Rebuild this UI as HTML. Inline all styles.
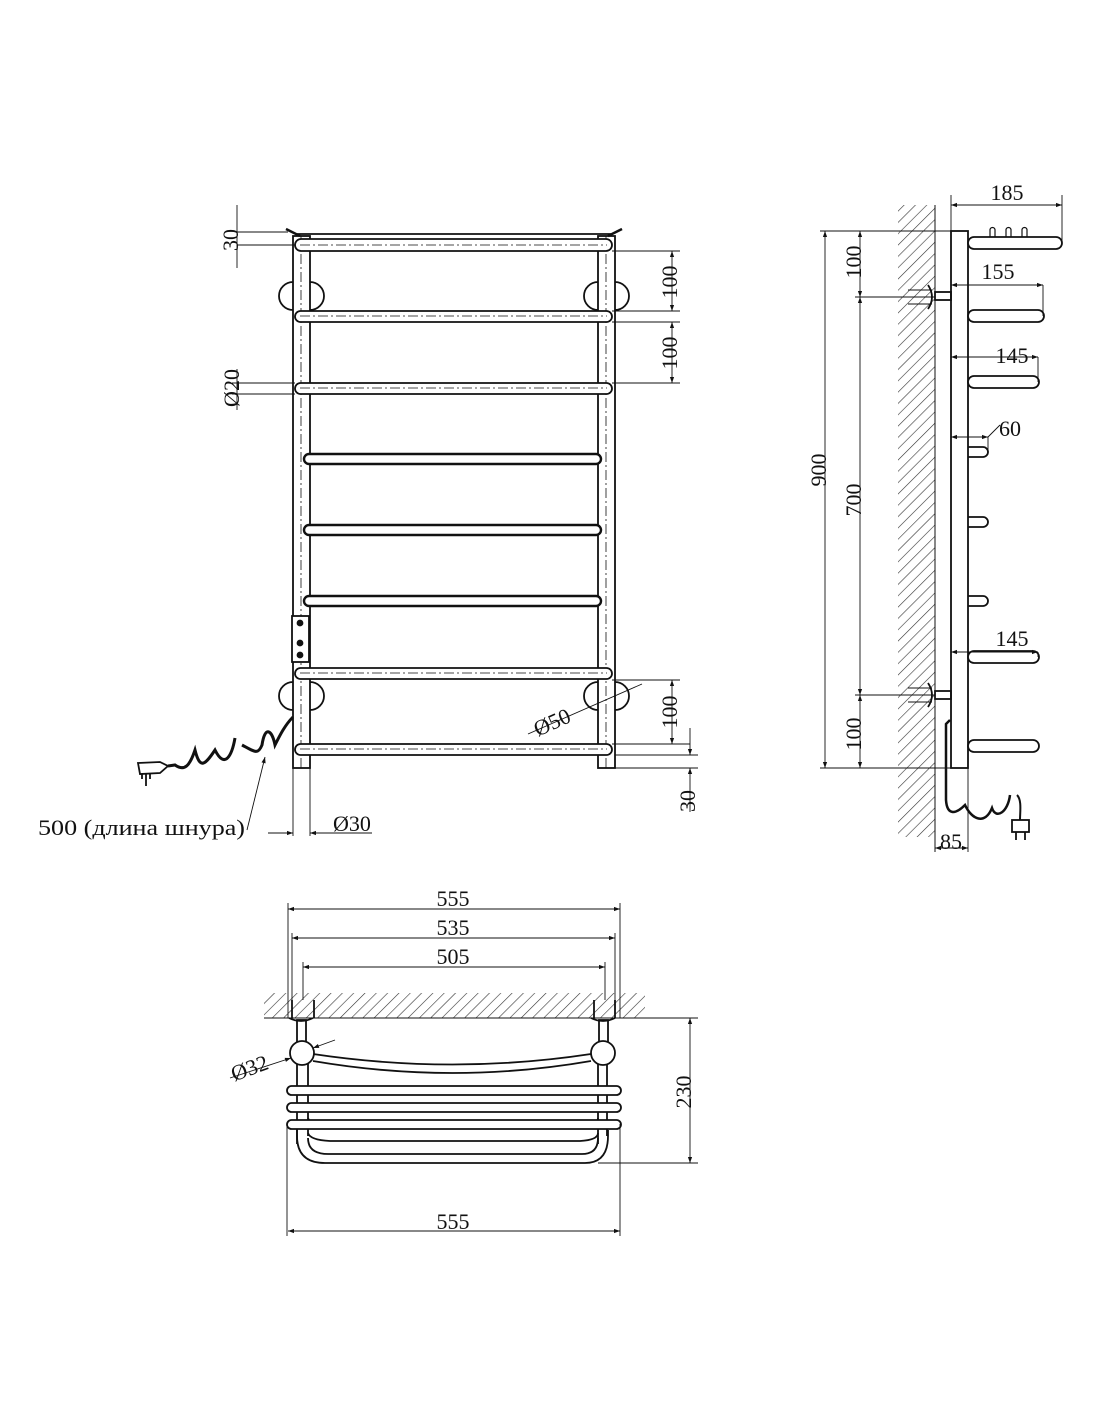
<!DOCTYPE html>
<html><head><meta charset="utf-8"><style>
html,body{margin:0;padding:0;background:#fff;}
svg{display:block;}
text{font-family:"Liberation Serif",serif;font-size:22px;fill:#111;}
</style></head><body>
<svg width="1100" height="1422" viewBox="0 0 1100 1422" xmlns="http://www.w3.org/2000/svg">
<defs>
<marker id="a" viewBox="0 0 10 10" refX="10" refY="5" markerWidth="10" markerHeight="6" orient="auto-start-reverse" markerUnits="userSpaceOnUse"><path d="M0,1.5 L10,5 L0,8.5 z" fill="#111"/></marker>
<pattern id="h" width="8" height="8" patternUnits="userSpaceOnUse" patternTransform="rotate(45)"><line x1="0" y1="0" x2="0" y2="8" stroke="#333" stroke-width="1.2"/></pattern>
</defs>
<g fill="none" stroke="#111" stroke-width="1.8">
<!-- ===== FRONT VIEW ===== -->
<rect x="293" y="236" width="17" height="532" fill="#fff"/>
<rect x="598" y="236" width="17" height="532" fill="#fff"/>
<line x1="301" y1="236" x2="301" y2="768" stroke-dasharray="10,3,2,3" stroke-width="0.8"/>
<line x1="606" y1="236" x2="606" y2="768" stroke-dasharray="10,3,2,3" stroke-width="0.8"/>
<path d="M293,282 A14,14 0 0 0 293,310"/><path d="M310,282 A14,14 0 0 1 310,310"/>
<path d="M598,282 A14,14 0 0 0 598,310"/><path d="M615,282 A14,14 0 0 1 615,310"/>
<path d="M293,682 A14,14 0 0 0 293,710"/><path d="M310,682 A14,14 0 0 1 310,710"/>
<path d="M598,682 A14,14 0 0 0 598,710"/><path d="M615,682 A14,14 0 0 1 615,710"/>
<line x1="286" y1="229" x2="300" y2="236" stroke-width="2.5"/><line x1="622" y1="229" x2="608" y2="236" stroke-width="2.5"/>
<line x1="297" y1="234" x2="611" y2="234"/>
<rect x="295" y="239" width="317" height="12" rx="6" fill="#fff"/>
<rect x="295" y="311" width="317" height="11" rx="5.5" fill="#fff"/>
<rect x="295" y="383" width="317" height="11" rx="5.5" fill="#fff"/>
<rect x="304" y="454" width="297" height="10" rx="5" fill="#fff" stroke-width="2.4"/>
<rect x="304" y="525" width="297" height="10" rx="5" fill="#fff" stroke-width="2.4"/>
<rect x="304" y="596" width="297" height="10" rx="5" fill="#fff" stroke-width="2.4"/>
<rect x="295" y="668" width="317" height="11" rx="5.5" fill="#fff"/>
<rect x="295" y="744" width="317" height="11" rx="5.5" fill="#fff"/>
<g stroke-dasharray="10,3,2,3" stroke-width="0.7">
<line x1="300" y1="245" x2="607" y2="245"/><line x1="300" y1="316" x2="607" y2="316"/><line x1="300" y1="388" x2="607" y2="388"/>
<line x1="300" y1="673" x2="607" y2="673"/><line x1="300" y1="749" x2="607" y2="749"/>
</g>
<rect x="292" y="616" width="17" height="46" fill="#fff"/>
<circle cx="300" cy="623" r="2.5" fill="#111"/><circle cx="300" cy="643" r="2.5" fill="#111"/><circle cx="300" cy="655" r="2.5" fill="#111"/>
<path d="M293,717 C285,725 280,735 275,745 C272,730 265,725 262,745 C258,755 255,752 242,745" stroke-width="3"/>
<path d="M235,738 C232,755 225,770 215,750 C205,765 200,770 195,750 C190,765 185,772 175,765 L168,766" stroke-width="3"/>
<path d="M138,763 L160,762 L168,766 L160,773 L140,774 Z" fill="#fff"/>
<line x1="146" y1="774" x2="146" y2="786"/><line x1="142" y1="774" x2="142" y2="779"/><line x1="150" y1="774" x2="150" y2="779"/>
<g stroke-width="0.9">
<line x1="237" y1="205" x2="237" y2="268"/>
<line x1="237" y1="232" x2="288" y2="232"/><line x1="237" y1="245" x2="295" y2="245"/>
<line x1="237" y1="369" x2="237" y2="410"/>
<line x1="232" y1="383" x2="295" y2="383"/><line x1="232" y1="394" x2="295" y2="394"/>
<line x1="612" y1="251" x2="680" y2="251"/><line x1="612" y1="311" x2="680" y2="311"/>
<line x1="612" y1="322" x2="680" y2="322"/><line x1="612" y1="383" x2="680" y2="383"/>
<line x1="672" y1="251" x2="672" y2="311" marker-start="url(#a)" marker-end="url(#a)"/>
<line x1="672" y1="322" x2="672" y2="383" marker-start="url(#a)" marker-end="url(#a)"/>
<line x1="612" y1="680" x2="680" y2="680"/><line x1="612" y1="744" x2="690" y2="744"/><line x1="615" y1="755" x2="698" y2="755"/><line x1="615" y1="768" x2="698" y2="768"/>
<line x1="672" y1="680" x2="672" y2="744" marker-start="url(#a)" marker-end="url(#a)"/>
<line x1="690" y1="728" x2="690" y2="755" marker-end="url(#a)"/>
<line x1="690" y1="768" x2="690" y2="812" marker-start="url(#a)"/>
<line x1="528" y1="734" x2="642" y2="684"/>
<line x1="293" y1="768" x2="293" y2="836"/><line x1="310" y1="768" x2="310" y2="836"/>
<line x1="268" y1="833" x2="293" y2="833" marker-end="url(#a)"/><line x1="335" y1="833" x2="310" y2="833" marker-end="url(#a)"/><line x1="335" y1="833" x2="372" y2="833"/>
<line x1="247" y1="830" x2="265" y2="757" marker-end="url(#a)"/>
</g>
</g>
<text transform="translate(238,240) rotate(-90)" text-anchor="middle">30</text>
<text transform="translate(239,388) rotate(-90)" text-anchor="middle">Ø20</text>
<text transform="translate(677,282) rotate(-90)" text-anchor="middle">100</text>
<text transform="translate(677,353) rotate(-90)" text-anchor="middle">100</text>
<text transform="translate(677,712) rotate(-90)" text-anchor="middle">100</text>
<text transform="translate(695,801) rotate(-90)" text-anchor="middle">30</text>
<text transform="translate(555,729) rotate(-24)" text-anchor="middle">Ø50</text>
<text x="38" y="835" textLength="207" lengthAdjust="spacingAndGlyphs">500 (длина шнура)</text>
<text x="333" y="831">Ø30</text>

<!-- ===== SIDE VIEW ===== -->
<g fill="none" stroke="#111" stroke-width="1.8">
<rect x="898" y="205" width="37" height="632" fill="url(#h)" stroke="none"/>
<line x1="935" y1="205" x2="935" y2="852" stroke-width="1"/>
<rect x="951" y="231" width="17" height="537" fill="#fff"/>
<rect x="968" y="237" width="94" height="12" rx="6" fill="#fff"/>
<rect x="968" y="310" width="76" height="12" rx="6" fill="#fff"/>
<rect x="968" y="376" width="71" height="12" rx="6" fill="#fff"/>
<path d="M968,447 L983,447 A5,5 0 0 1 983,457 L968,457"/>
<path d="M968,517 L983,517 A5,5 0 0 1 983,527 L968,527"/>
<path d="M968,596 L983,596 A5,5 0 0 1 983,606 L968,606"/>
<rect x="968" y="651" width="71" height="12" rx="6" fill="#fff"/>
<rect x="968" y="740" width="71" height="12" rx="6" fill="#fff"/>
<path d="M990,237 v-7 a2.5,2.5 0 0 1 5,0 v7 M1006,237 v-7 a2.5,2.5 0 0 1 5,0 v7 M1022,237 v-7 a2.5,2.5 0 0 1 5,0 v7" stroke-width="1.2"/>
<path d="M928,285 Q936,297 928,309"/><rect x="935" y="292" width="16" height="8"/>
<path d="M928,683 Q936,695 928,707"/><rect x="935" y="691" width="16" height="8"/>
<g stroke-width="1"><line x1="908" y1="290" x2="932" y2="290"/><line x1="908" y1="304" x2="932" y2="304"/><line x1="908" y1="688" x2="932" y2="688"/><line x1="908" y1="702" x2="932" y2="702"/></g>
<path d="M950,720 L946,724 L946,800 C947,815 955,815 965,805 C972,820 985,825 992,808 C996,820 1008,812 1010,795" stroke-width="2.5"/>
<path d="M1017,795 C1022,800 1020,812 1020,820" stroke-width="2"/>
<rect x="1012" y="820" width="17" height="12" fill="#fff"/>
<line x1="1016" y1="832" x2="1016" y2="840"/><line x1="1025" y1="832" x2="1025" y2="840"/>
<g stroke-width="0.9">
<line x1="951" y1="195" x2="951" y2="231"/><line x1="1062" y1="195" x2="1062" y2="242"/>
<line x1="951" y1="205" x2="1062" y2="205" marker-start="url(#a)" marker-end="url(#a)"/>
<line x1="951" y1="285" x2="1043" y2="285" marker-start="url(#a)" marker-end="url(#a)"/><line x1="1043" y1="285" x2="1043" y2="316"/>
<line x1="951" y1="357" x2="1038" y2="357" marker-start="url(#a)" marker-end="url(#a)"/><line x1="1038" y1="357" x2="1038" y2="382"/>
<line x1="951" y1="437" x2="988" y2="437" marker-start="url(#a)" marker-end="url(#a)"/><line x1="988" y1="437" x2="988" y2="452"/><line x1="988" y1="437" x2="1000" y2="425"/>
<line x1="951" y1="652" x2="1038" y2="652" marker-start="url(#a)" marker-end="url(#a)"/><line x1="1038" y1="652" x2="1038" y2="657"/>
<line x1="820" y1="231" x2="951" y2="231"/><line x1="820" y1="768" x2="951" y2="768"/>
<line x1="855" y1="297" x2="935" y2="297"/><line x1="855" y1="695" x2="935" y2="695"/>
<line x1="825" y1="231" x2="825" y2="768" marker-start="url(#a)" marker-end="url(#a)"/>
<line x1="860" y1="231" x2="860" y2="297" marker-start="url(#a)" marker-end="url(#a)"/>
<line x1="860" y1="297" x2="860" y2="695" marker-start="url(#a)" marker-end="url(#a)"/>
<line x1="860" y1="695" x2="860" y2="768" marker-start="url(#a)" marker-end="url(#a)"/>
<line x1="968" y1="768" x2="968" y2="852"/>
<line x1="935" y1="848" x2="968" y2="848" marker-start="url(#a)" marker-end="url(#a)"/>
</g>
</g>
<text x="1007" y="200" text-anchor="middle">185</text>
<text x="998" y="279" text-anchor="middle">155</text>
<text x="1012" y="363" text-anchor="middle">145</text>
<text x="1010" y="436" text-anchor="middle">60</text>
<text x="1012" y="646" text-anchor="middle">145</text>
<text transform="translate(826,470) rotate(-90)" text-anchor="middle">900</text>
<text transform="translate(861,500) rotate(-90)" text-anchor="middle">700</text>
<text transform="translate(861,262) rotate(-90)" text-anchor="middle">100</text>
<text transform="translate(861,734) rotate(-90)" text-anchor="middle">100</text>
<text x="951" y="849" text-anchor="middle">85</text>

<!-- ===== TOP VIEW ===== -->
<g fill="none" stroke="#111" stroke-width="1.8">
<rect x="264" y="993" width="381" height="25" fill="url(#h)" stroke="none"/>
<line x1="264" y1="1018" x2="645" y2="1018" stroke-width="1"/>
<rect x="297" y="1020" width="9" height="24" fill="#fff"/><rect x="599" y="1020" width="9" height="24" fill="#fff"/>
<path d="M289,1018 Q301,1024 313,1018 M591,1018 Q603,1024 615,1018"/>
<line x1="292" y1="1000" x2="292" y2="1018"/><line x1="314" y1="1000" x2="314" y2="1018"/>
<line x1="594" y1="1000" x2="594" y2="1018"/><line x1="615" y1="1000" x2="615" y2="1018"/>
<path d="M313,1054 Q453,1075 591,1054"/><path d="M313,1061 Q453,1085 591,1061"/>
<line x1="297" y1="1064" x2="297" y2="1144"/><line x1="308" y1="1064" x2="308" y2="1136"/>
<line x1="598" y1="1064" x2="598" y2="1144"/><line x1="607" y1="1064" x2="607" y2="1136"/>
<path d="M308,1118 Q310,1125 330,1126 L580,1126 Q598,1125 598,1118"/>
<path d="M308,1133 Q310,1140 330,1141 L580,1141 Q598,1140 598,1133"/>
<path d="M297,1130 L297,1136 Q297,1163 325,1163 L585,1163 Q608,1163 608,1136 L608,1130"/>
<path d="M308,1138 Q308,1154 328,1154 L582,1154 Q598,1154 598,1138"/>
<rect x="287" y="1086" width="334" height="9" rx="4.5" fill="#fff"/>
<rect x="287" y="1103" width="334" height="9" rx="4.5" fill="#fff"/>
<rect x="287" y="1120" width="334" height="9" rx="4.5" fill="#fff"/>
<circle cx="302" cy="1053" r="12" fill="#fff"/><circle cx="603" cy="1053" r="12" fill="#fff"/>
<g stroke-width="0.9">
<line x1="288" y1="903" x2="288" y2="1018"/><line x1="620" y1="903" x2="620" y2="1018"/>
<line x1="292" y1="933" x2="292" y2="1000"/><line x1="615" y1="933" x2="615" y2="1000"/>
<line x1="303" y1="962" x2="303" y2="1000"/><line x1="605" y1="962" x2="605" y2="1000"/>
<line x1="288" y1="909" x2="620" y2="909" marker-start="url(#a)" marker-end="url(#a)"/>
<line x1="292" y1="938" x2="615" y2="938" marker-start="url(#a)" marker-end="url(#a)"/>
<line x1="303" y1="967" x2="605" y2="967" marker-start="url(#a)" marker-end="url(#a)"/>
<line x1="287" y1="1124" x2="287" y2="1236"/><line x1="620" y1="1124" x2="620" y2="1236"/>
<line x1="288" y1="1231" x2="620" y2="1231" marker-start="url(#a)" marker-end="url(#a)"/>
<line x1="620" y1="1018" x2="698" y2="1018"/><line x1="598" y1="1163" x2="698" y2="1163"/>
<line x1="690" y1="1018" x2="690" y2="1163" marker-start="url(#a)" marker-end="url(#a)"/>
<line x1="230" y1="1078" x2="291" y2="1058" marker-end="url(#a)"/><line x1="335" y1="1040" x2="313" y2="1048" marker-end="url(#a)"/>
</g>
</g>
<text x="453" y="906" text-anchor="middle">555</text>
<text x="453" y="935" text-anchor="middle">535</text>
<text x="453" y="964" text-anchor="middle">505</text>
<text x="453" y="1229" text-anchor="middle">555</text>
<text transform="translate(691,1092) rotate(-90)" text-anchor="middle">230</text>
<text transform="translate(252,1075) rotate(-20)" text-anchor="middle">Ø32</text>
</svg>
</body></html>
